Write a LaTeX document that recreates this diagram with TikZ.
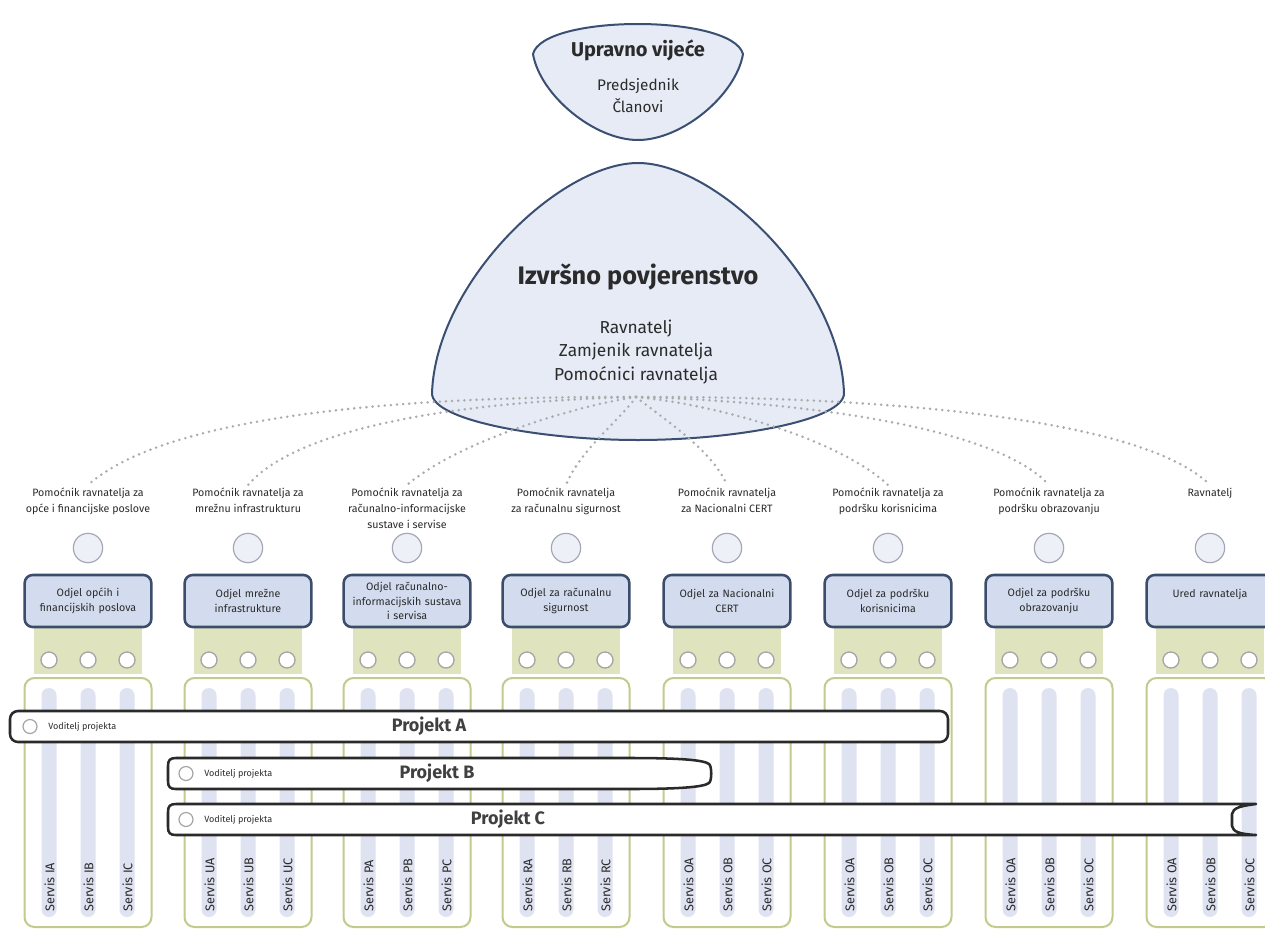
\documentclass[tikz,border=0pt]{standalone}
\usepackage{fontspec}
\setmainfont{Fira Sans}
\definecolor{txt}{HTML}{2B2B2B}
\definecolor{shapefill}{HTML}{E6EBF6}
\definecolor{shapeline}{HTML}{3A4F72}
\definecolor{deptfill}{HTML}{D3DCEF}
\definecolor{deptline}{HTML}{3B4D6B}
\definecolor{pfill}{HTML}{EEF0F7}
\definecolor{pline}{HTML}{A4A8B6}
\definecolor{bandfill}{HTML}{DFE4BF}
\definecolor{dotline}{HTML}{A5A5A5}
\definecolor{contline}{HTML}{C3CA8C}
\definecolor{svcfill}{HTML}{DFE3F1}
\definecolor{projline}{HTML}{2A2A2A}
\definecolor{connc}{HTML}{ABABAB}
\tikzset{
  hdr/.style={font=\fontsize{8}{12}\selectfont, align=center, text=txt, anchor=north, inner sep=2pt},
  person/.style={circle, draw=pline, fill=pfill, line width=0.9pt, minimum size=22pt, inner sep=0pt},
  dept/.style={draw=deptline, fill=deptfill, line width=1.9pt, rounded corners=6pt,
    minimum width=95pt, minimum height=39pt, text width=92pt, align=center,
    font=\fontsize{8}{11}\selectfont, text=txt, inner sep=0pt},
  smalldot/.style={circle, draw=dotline, fill=white, line width=1pt, minimum size=12pt, inner sep=0pt},
  cont/.style={draw=contline, fill=white, line width=1.5pt, rounded corners=7.5pt},
  svc/.style={fill=svcfill, rounded corners=5.6pt},
  svclbl/.style={rotate=90, anchor=west, font=\fontsize{9.5}{11}\selectfont, text=txt, inner sep=0pt},
  proj/.style={draw=projline, fill=white, line width=1.9pt, rounded corners=6pt},
  projdot/.style={circle, draw=dotline, fill=white, line width=0.9pt, minimum size=10.5pt, inner sep=0pt},
  lead/.style={anchor=west, font=\fontsize{6.8}{7}\selectfont, text=txt, inner sep=0pt},
  projname/.style={font=\fontsize{13.5}{15}\selectfont\bfseries, text=txt!90, inner sep=0pt},
  body/.style={draw=shapeline, fill=shapefill, line width=1.5pt},
  conn/.style={draw=connc, line width=2.1pt, line cap=round, dash pattern=on 0pt off 4.6pt},
}
\newcommand\orgcol[5]{%
  \node[hdr] (h#1) at (#2,485) {#3};
  \node[person] (p#1) at (#2,548) {};
  \fill[bandfill] ({#2-54},620) rectangle ({#2+54},674);
  \node[dept] (d#1) at (#2,601) {#4};
  \foreach \k/\dx in {a/-39,b/0,c/39} {\node[smalldot] (s#1\k) at ({#2+\dx},660) {};}
  \draw[cont] ({#2-63.5},678) rectangle ({#2+63.5},927);
  \foreach \k/\dx/\L in {a/-39/A,b/0/B,c/39/C} {
    \fill[svc] ({#2+\dx-7.5},688) rectangle ({#2+\dx+7.5},917);
    \node[svclbl] (v#1\k) at ({#2+\dx+0.5},912) {Servis #5\L};
  }
}
\begin{document}
\begin{tikzpicture}[x=0.75pt,y=-0.75pt]
\clip (0,0) rectangle (1265,929);
\fill[white] (0,0) rectangle (1265,929);

% top body
\draw[body] (533,54) .. controls (543,14) and (732,14) .. (743,54)
  .. controls (736,95) and (682,140) .. (638,140)
  .. controls (594,140) and (540,95) .. (533,54) -- cycle;
\node[font=\fontsize{15}{18}\selectfont\bfseries, text=txt] (uv) at (638,50) {Upravno vijeće};
\node[font=\fontsize{11.5}{16.5}\selectfont, text=txt, align=center] (uvm) at (638,96) {Predsjednik\\Članovi};

% executive body
\draw[body] (638,163) .. controls (560,163) and (436,282) .. (432,393)
  .. controls (431,420) and (540,440) .. (638,440)
  .. controls (736,440) and (845,420) .. (844,393)
  .. controls (840,282) and (716,163) .. (638,163) -- cycle;
\node[font=\fontsize{19}{22}\selectfont\bfseries, text=txt] (ip) at (638,277) {Izvršno povjerenstvo};
\node[font=\fontsize{13}{17.5}\selectfont, text=txt, align=center] (ipm) at (636,352) {Ravnatelj\\Zamjenik ravnatelja\\Pomoćnici ravnatelja};

% columns
\orgcol{1}{88}{Pomoćnik ravnatelja za\\opće i financijske poslove}{Odjel općih i\\financijskih poslova}{I}
\orgcol{2}{248}{Pomoćnik ravnatelja za\\mrežnu infrastrukturu}{Odjel mrežne\\infrastrukture}{U}
\orgcol{3}{407}{Pomoćnik ravnatelja za\\računalno-informacijske\\sustave i servise}{Odjel računalno-\\informacijskih sustava\\i servisa}{P}
\orgcol{4}{566}{Pomoćnik ravnatelja\\za računalnu sigurnost}{Odjel za računalnu\\sigurnost}{R}
\orgcol{5}{727}{Pomoćnik ravnatelja\\za Nacionalni CERT}{Odjel za Nacionalni\\CERT}{O}
\orgcol{6}{888}{Pomoćnik ravnatelja za\\podršku korisnicima}{Odjel za podršku\\korisnicima}{O}
\orgcol{7}{1049}{Pomoćnik ravnatelja za\\podršku obrazovanju}{Odjel za podršku\\obrazovanju}{O}
\orgcol{8}{1210}{Ravnatelj}{Ured ravnatelja\\\mbox{}}{O}

% connectors
\coordinate (hub) at (636,397);
\draw[conn] (hub) .. controls (420,396) and (170,412) .. (h1.north);
\draw[conn] (hub) .. controls (470,401) and (300,425) .. (h2.north);
\draw[conn] (hub) .. controls (580,405) and (460,440) .. (h3.north);
\draw[conn] (hub) .. controls (620,420) and (580,450) .. (h4.north);
\draw[conn] (hub) .. controls (665,420) and (712,450) .. (h5.north);
\draw[conn] (hub) .. controls (720,405) and (840,440) .. (h6.north);
\draw[conn] (hub) .. controls (790,401) and (995,425) .. (h7.north);
\draw[conn] (hub) .. controls (860,396) and (1140,415) .. (h8.north);

% projects
\draw[proj] (10,711) rectangle (948,742);
\node[projdot] (pa) at (30,726.5) {};
\node[lead] (la) at (48,726.5) {Voditelj projekta};
\node[projname] (na) at (429,726.5) {Projekt A};

\draw[projline, fill=white, line width=1.9pt, line join=round]
  (176,758) -- (630,758) .. controls (680,758) and (704,760) .. (709,764)
  .. controls (712,766) and (712,781) .. (709,783)
  .. controls (704,787) and (680,789) .. (630,789) -- (176,789)
  .. controls (170,789) and (168,787) .. (168,781) -- (168,766)
  .. controls (168,760) and (170,758) .. (176,758) -- cycle;
\node[projdot] (pb) at (186,773.5) {};
\node[lead] (lb) at (204,773.5) {Voditelj projekta};
\node[projname] (nb) at (437,773.5) {Projekt B};

\draw[projline, fill=white, line width=1.9pt, line join=round]
  (176,804) -- (1256,804) .. controls (1240,806) and (1233,808) .. (1232,814)
  -- (1232,826) .. controls (1233,832) and (1240,834) .. (1256,835) -- (176,835)
  .. controls (170,835) and (168,833) .. (168,827) -- (168,812)
  .. controls (168,806) and (170,804) .. (176,804) -- cycle;
\node[projdot] (pc) at (186,819.5) {};
\node[lead] (lc) at (204,819.5) {Voditelj projekta};
\node[projname] (nc) at (508,819.5) {Projekt C};
\end{tikzpicture}
\end{document}
